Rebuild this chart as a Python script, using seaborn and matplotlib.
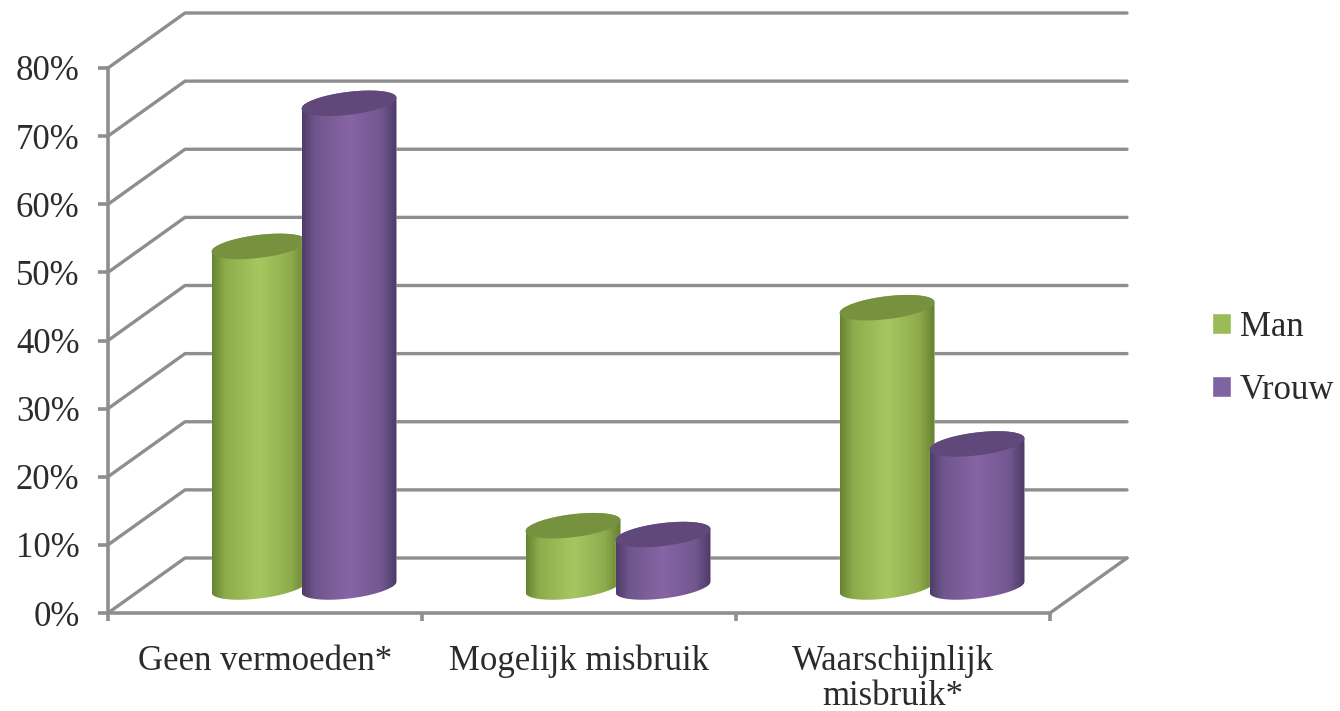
import numpy as np
import pandas as pd
import seaborn as sns
import matplotlib
matplotlib.use("Agg")
import matplotlib.pyplot as plt
from matplotlib.colors import to_rgb
from matplotlib.path import Path
from matplotlib.patches import Polygon

categories = ["Geen vermoeden*", "Mogelijk misbruik", "Waarschijnlijk\nmisbruik*"]
man = [50, 9, 41]
vrouw = [71, 7.7, 21]
y_ticks = [0, 10, 20, 30, 40, 50, 60, 70, 80]

W, H = 1340, 711
GREY = "#8e8e8e"
TEXT = "#2b2b2b"
FS = 25

sns.set_theme(style="white")
plt.rcParams["font.family"] = ["Liberation Serif", "DejaVu Serif"]

df = pd.DataFrame({
    "cat": categories * 2,
    "geslacht": ["Man"] * 3 + ["Vrouw"] * 3,
    "pct": man + vrouw,
})

fig = plt.figure(figsize=(W / 100, H / 100), dpi=100)


def add_axes_px(left, right, top, bottom):
    return fig.add_axes([left / W, (H - bottom) / H, (right - left) / W, (bottom - top) / H])


# front plane of the 3d box, walls are drawn from here too
ax = add_axes_px(108, 1050, 68, 613)
ax.set_xlim(-0.5, 2.5)
ax.set_ylim(0, 80)
ax.patch.set_alpha(0)
dx = 77 / 314
dy = 55 / 6.8125

for v in y_ticks:
    ax.plot([-0.5, -0.5 + dx, 2.5 + dx], [v, v + dy, v + dy], color=GREY, lw=2.4,
            clip_on=False, solid_joinstyle="round", zorder=1)
ax.plot([2.5, 2.5 + dx], [0, dy], color=GREY, lw=2.4, clip_on=False, zorder=1)

for s in ["top", "right"]:
    ax.spines[s].set_visible(False)
for s in ["left", "bottom"]:
    ax.spines[s].set_color(GREY)
    ax.spines[s].set_linewidth(2.6)

ax.set_yticks(y_ticks)
ax.set_yticklabels([f"{v}%" for v in y_ticks], fontsize=FS, color=TEXT)
ax.set_xticks(range(3))
ax.set_xticklabels(categories, fontsize=FS, color=TEXT, linespacing=1.1)
ax.set_xticks([-0.5, 0.5, 1.5, 2.5], minor=True)
ax.tick_params(axis="y", left=True, length=7.5, width=2.6, color=GREY, pad=13)
ax.tick_params(axis="x", which="major", bottom=False, pad=17)
ax.tick_params(axis="x", which="minor", bottom=True, length=6, width=2.6, color=GREY)

# cylinders stand half way in the box
ax2 = add_axes_px(108 + 39, 1050 + 39, 68 - 26, 613 - 26)
ax2.patch.set_alpha(0)
sns.barplot(data=df, x="cat", y="pct", hue="geslacht", hue_order=["Man", "Vrouw"],
            palette=["#9BBB59", "#8064A2"], width=0.573, gap=-0.055, ax=ax2, saturation=1)
bars = [c for c in ax2.containers]

body_stops = [0, 0.14, 0.5, 0.84, 1]
body_cols = {
    0: ["#678433", "#8dac4c", "#a6c760", "#8dab4c", "#64802e"],
    1: ["#4f3c6a", "#6f568c", "#8864a6", "#71578f", "#4d3a66"],
}
cap_cols = {0: "#77923f", 1: "#60497a"}
b = 11.5 / 6.8125
sh = 5.5 / 6.8125
t1 = np.linspace(np.pi, 2 * np.pi, 60)
t2 = np.linspace(0, np.pi, 60)
t3 = np.linspace(0, 2 * np.pi, 120)

z = 3
for i, cont in enumerate(bars):
    rgb = np.array([to_rgb(c) for c in body_cols[i]])
    pos = np.linspace(0, 1, 200)
    grad = np.stack([np.interp(pos, body_stops, rgb[:, k]) for k in range(3)], axis=1)[None, :, :]
    for p in cont.patches:
        x0, w, v = p.get_x(), p.get_width(), p.get_height()
        cx, a = x0 + w / 2, w / 2
        # outline: lower half of the base, then the far half of the top
        xs = np.r_[cx + a * np.cos(t1), cx + a * np.cos(t2)]
        ys = np.r_[b * np.sin(t1) + sh * np.cos(t1), v + b * np.sin(t2) + sh * np.cos(t2)]
        outline = Path(np.c_[xs, ys])
        p.set_clip_path(outline, ax2.transData)
        p.set_clip_box(None)
        p.set_zorder(z)
        im = ax2.imshow(grad, extent=[x0, x0 + w, -4, v + 4], aspect="auto",
                        interpolation="bilinear", zorder=z + 0.1)
        im.set_clip_path(outline, ax2.transData)
        im.set_clip_box(fig.bbox)
        cap = Polygon(np.c_[cx + a * np.cos(t3), v + b * np.sin(t3) + sh * np.cos(t3)],
                      closed=True, facecolor=cap_cols[i], edgecolor="none", zorder=z + 0.2)
        ax2.add_patch(cap)
        cap.set_clip_on(False)
        z += 1

ax2.set_xlim(-0.5, 2.5)
ax2.set_ylim(0, 80)
ax2.axis("off")

sns.move_legend(ax2, "center left", bbox_to_anchor=(1212 / W, (H - 359) / H),
                bbox_transform=fig.transFigure, title=None, frameon=False,
                fontsize=FS, labelspacing=0.87, handlelength=0.55, handleheight=0.55,
                handletextpad=0.26, borderpad=0, borderaxespad=0)
for t in ax2.get_legend().get_texts():
    t.set_color(TEXT)

fig.savefig("out.png", dpi=100)
